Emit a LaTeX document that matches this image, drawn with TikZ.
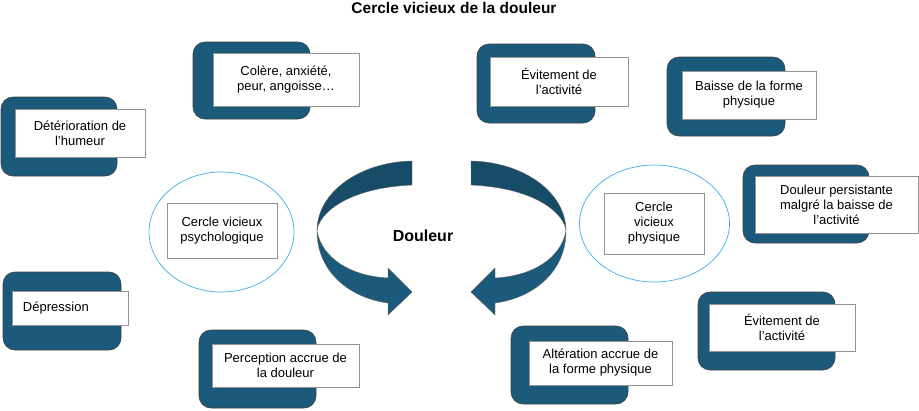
\documentclass[tikz,border=0pt]{standalone}
\usepackage{fontspec}
\setmainfont{Liberation Sans}
\usetikzlibrary{positioning,shapes.geometric}
\definecolor{boxblue}{HTML}{1B5A7A}
\definecolor{bandblue}{HTML}{164C68}
\definecolor{ringblue}{HTML}{3FAEE3}

\begin{document}
\begin{tikzpicture}[x=1pt,y=-1pt,
                dark box/.style={rectangle,rounded corners=12pt,draw=black!75,fill=boxblue,line width=0.6pt},
                text box/.style={rectangle,draw=gray!85,fill=white,line width=0.6pt,align=center,
                                 inner sep=2pt,font=\fontsize{13}{15}\selectfont},
                ring/.style={ellipse,draw=ringblue,line width=0.7pt,inner sep=0pt},
                upper band/.style={fill=bandblue,draw=black!60,line width=0.4pt},
                lower band/.style={fill=boxblue,draw=black!60,line width=0.4pt}]
  \useasboundingbox (0,0) rectangle (919,410);

  \node[anchor=base,font=\fontsize{15.5}{18}\selectfont\bfseries] (title) at (454,13.5) {Cercle vicieux de la douleur};
  \node[anchor=base,font=\fontsize{16}{18}\selectfont\bfseries] (pain) at (423,241) {Douleur};

  \node[dark box,minimum width=117,minimum height=77] (d1) at (251.5,80.5) {};
  \node[text box,minimum width=146,minimum height=53] (anger) at (286,79.5) {Colère, anxiété,\\peur, angoisse…};

  \node[dark box,minimum width=116,minimum height=79] (d2) at (59,136.5) {};
  \node[text box,minimum width=130,minimum height=48] (mood) at (80,133) {Détérioration de\\l'humeur};

  \node[dark box,minimum width=118,minimum height=78] (d3) at (62,311) {};
  \node[text box,minimum height=33,inner sep=11pt,text width=94pt,align=left] (depr) at (70,308.5) {Dépression};

  \node[dark box,minimum width=117,minimum height=78] (d4) at (257.5,369) {};
  \node[text box,minimum width=147,minimum height=43] (percep) at (285.5,365.5) {Perception accrue de\\la douleur};

  \node[dark box,minimum width=118,minimum height=79] (d5) at (536,83.5) {};
  \node[text box,minimum width=138,minimum height=49] (avoidA) at (559,81.5) {Évitement de\\l’activité};

  \node[dark box,minimum width=118,minimum height=79] (d6) at (726,96.5) {};
  \node[text box,minimum width=134,minimum height=48] (fitness) at (749,95) {Baisse de la forme\\physique};

  \node[dark box,minimum width=126,minimum height=78] (d7) at (806,204) {};
  \node[text box,minimum width=163,minimum height=57] (persist) at (836.5,204.5) {Douleur persistante\\malgré la baisse de\\l’activité};

  \node[dark box,minimum width=137,minimum height=78] (d8) at (766.5,331) {};
  \node[text box,minimum width=146,minimum height=47] (avoidB) at (782,327.5) {Évitement de\\l’activité};

  \node[dark box,minimum width=117,minimum height=78] (d9) at (569.5,365) {};
  \node[text box,minimum width=143,minimum height=44] (alter) at (600.5,363) {Altération accrue de\\la forme physique};

  \node[ring,minimum width=145,minimum height=120] (psyring) at (221.5,232) {};
  \node[text box,minimum width=110,minimum height=55] (psy) at (222,230.5) {Cercle vicieux\\psychologique};

  \node[ring,minimum width=150,minimum height=117] (phyring) at (654.5,223.5) {};
  \node[text box,minimum width=100,minimum height=61] (phy) at (654,223.5) {Cercle\\vicieux\\physique};

  \foreach \s/\f in {0/1,883/-1}{
    \begin{scope}[shift={(\s,0)},xscale=\f]
      \path[upper band] (412,161) .. controls (360,162) and (317,192) .. (317,231)
        .. controls (318,215) and (345,188) .. (412,185) -- cycle;
      \path[lower band] (317,231) .. controls (317,272) and (350,298) .. (388,303)
        -- (388,315) -- (412,292) -- (388,268) -- (388,278)
        .. controls (350,276) and (322,258) .. (317,231) -- cycle;
    \end{scope}
  }
\end{tikzpicture}
\end{document}
